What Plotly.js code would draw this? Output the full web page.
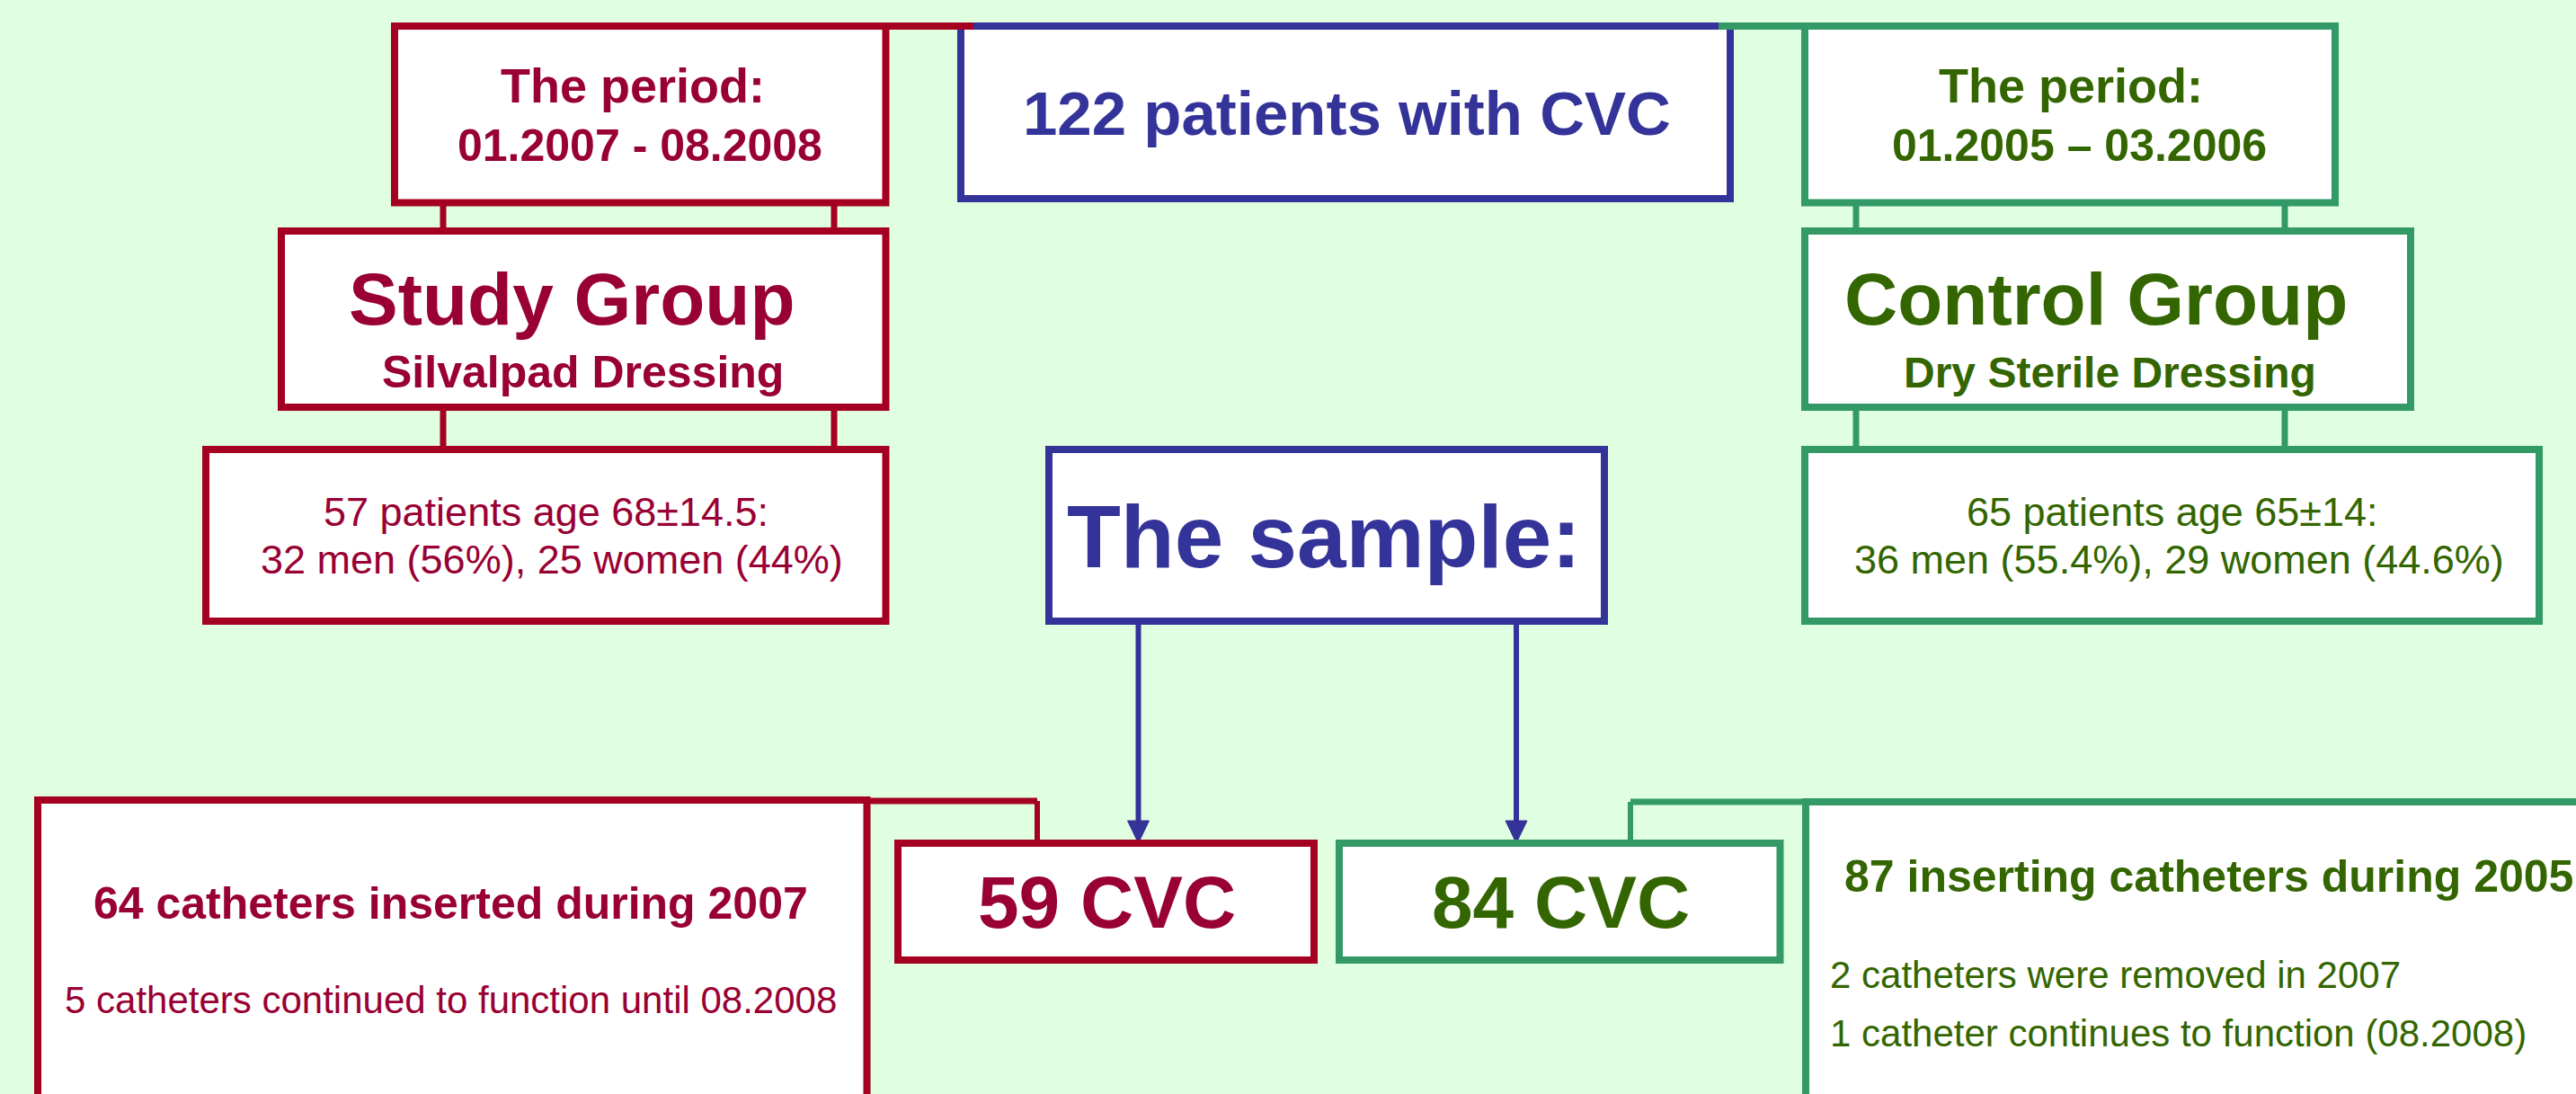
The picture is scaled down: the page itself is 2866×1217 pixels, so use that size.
<!DOCTYPE html>
<html>
<head>
<meta charset="utf-8">
<script src="https://cdn.plot.ly/plotly-3.0.1.min.js"></script>
<style>
  html, body { margin: 0; padding: 0; background: #E0FFE0; }
  #flow { width: 2866px; height: 1217px; }
</style>
</head>
<body>
<div id="flow"></div>
<script>
// ---- data ----
const totalPatients = 122;
const groupNames = ['Study Group', 'Control Group'];
const dressings = ['Silvalpad Dressing', 'Dry Sterile Dressing'];
const periods = ['01.2007 - 08.2008', '01.2005 \u2013 03.2006'];
const patients = [57, 65];
const ageMean = [68, 65];
const ageSd = [14.5, 14];
const men = [32, 36];
const menPct = ['56', '55.4'];
const women = [25, 29];
const womenPct = ['44', '44.6'];
const cvcCounts = [59, 84];
const studyNotes = ['64 catheters inserted during 2007', '5 catheters continued to function until 08.2008'];
const controlNotes = ['87 inserting catheters during 2005', '2 catheters were removed in 2007',
  '1 catheter continues to function (08.2008)'];

// ---- styling ----
const FONT = 'Liberation Sans, Arial, Helvetica, sans-serif';
const BG = '#E0FFE0';
const RED = '#A50021', RED_TXT = '#990033';
const BLUE = '#333399';
const GRN = '#339966', GRN_TXT = '#336600';
const LW = 8;

function rect(x0, y0, x1, y1, color, w) {
  return { type: 'rect', xref: 'x', yref: 'y', x0, y0, x1, y1, fillcolor: '#ffffff',
    line: { color, width: w || LW }, layer: 'above' };
}
function seg(x0, y0, x1, y1, color, w) {
  return { type: 'line', xref: 'x', yref: 'y', x0, y0, x1, y1, line: { color, width: w || LW }, layer: 'above' };
}
function arrow(x, y0, y1, color) {
  // shaft + filled head pointing down
  return [
    seg(x, y0, x, y1 - 20, color, 6),
    { type: 'path', xref: 'x', yref: 'y', path: `M ${x - 12},${y1 - 25} L ${x + 12},${y1 - 25} L ${x},${y1} Z`,
      fillcolor: color, line: { color, width: 1 }, layer: 'above' },
  ];
}
function label(x, y, text, size, color, bold, anchor) {
  return { x, y, xref: 'x', yref: 'y', text, showarrow: false, xanchor: anchor || 'center', yanchor: 'middle',
    font: { family: FONT, size, color, weight: bold ? 'bold' : 'normal' } };
}

// ---- boxes & connectors (diagram geometry, in pixels) ----
const shapes = [
  rect(1069, 29, 1925, 221, BLUE),
  seg(985, 29, 1083, 29, RED),
  seg(1912, 29, 2008, 29, GRN),
  // study column
  rect(439, 29, 985.5, 225.5, RED),
  seg(493, 225.5, 493, 257, RED, 7), seg(928, 225.5, 928, 257, RED, 7),
  rect(313, 257, 985.5, 453, RED),
  seg(493, 453, 493, 500, RED, 7), seg(928, 453, 928, 500, RED, 7),
  rect(229, 500, 985.5, 691, RED),
  // control column
  rect(2008, 29, 2598, 225.5, GRN),
  seg(2065, 225.5, 2065, 257, GRN, 7), seg(2542, 225.5, 2542, 257, GRN, 7),
  rect(2008, 257, 2682, 453, GRN),
  seg(2065, 453, 2065, 500, GRN, 7), seg(2542, 453, 2542, 500, GRN, 7),
  rect(2008, 500, 2825, 691, GRN),
  // the sample
  rect(1167, 500, 1785, 691, BLUE),
  ...arrow(1266.5, 691, 938, BLUE),
  ...arrow(1687, 691, 938, BLUE),
  // bottom row
  rect(42, 890, 964.5, 1320, RED),
  seg(964, 891, 1154, 891, RED, 7), seg(1154, 891, 1154, 938, RED, 6),
  rect(999, 938, 1462, 1068, RED),
  rect(1490, 938, 1980.5, 1068, GRN),
  seg(1814, 938, 1814, 892, GRN, 6), seg(1814, 892, 2009, 892, GRN, 7),
  rect(2009, 892, 3000, 1320, GRN),
];

const annotations = [
  label(1498, 126, `${totalPatients} patients with CVC`, 69, BLUE, true),
  label(704, 95, 'The period:', 54, RED_TXT, true),
  label(712, 162, periods[0], 50, RED_TXT, true),
  label(2304, 95, 'The period:', 54, GRN_TXT, true),
  label(2313, 162, periods[1], 50, GRN_TXT, true),
  label(636, 332, groupNames[0], 82, RED_TXT, true),
  label(648.5, 414, dressings[0], 50, RED_TXT, true),
  label(2332, 332, groupNames[1], 82, GRN_TXT, true),
  label(2347, 414, dressings[1], 48, GRN_TXT, true),
  label(607.5, 569, `${patients[0]} patients age ${ageMean[0]}\u00b1${ageSd[0]}:`, 45, RED_TXT, false),
  label(614, 622, `${men[0]} men (${menPct[0]}%), ${women[0]} women (${womenPct[0]}%)`, 45, RED_TXT, false),
  label(2417, 569, `${patients[1]} patients age ${ageMean[1]}\u00b1${ageSd[1]}:`, 45, GRN_TXT, false),
  label(2424, 622, `${men[1]} men (${menPct[1]}%), ${women[1]} women (${womenPct[1]}%)`, 45, GRN_TXT, false),
  label(1473, 597, 'The sample:', 98, BLUE, true),
  label(1231, 1003, `${cvcCounts[0]} CVC`, 82, RED_TXT, true),
  label(1736, 1003, `${cvcCounts[1]} CVC`, 82, GRN_TXT, true),
  label(501, 1005, studyNotes[0], 50, RED_TXT, true),
  label(501, 1112, studyNotes[1], 42, RED_TXT, false),
  label(2050, 975, controlNotes[0], 50, GRN_TXT, true, 'left'),
  label(2034, 1084, controlNotes[1], 42, GRN_TXT, false, 'left'),
  label(2034, 1149, controlNotes[2], 42, GRN_TXT, false, 'left'),
];

const layout = {
  width: 2866, height: 1217,
  margin: { t: 0, r: 0, b: 0, l: 0 },
  paper_bgcolor: BG, plot_bgcolor: BG,
  showlegend: false,
  xaxis: { range: [0, 2866], visible: false, fixedrange: true },
  yaxis: { range: [1217, 0], visible: false, fixedrange: true },
  shapes,
  annotations,
};

Plotly.newPlot('flow', [], layout, { displayModeBar: false, staticPlot: true });
</script>
</body>
</html>
